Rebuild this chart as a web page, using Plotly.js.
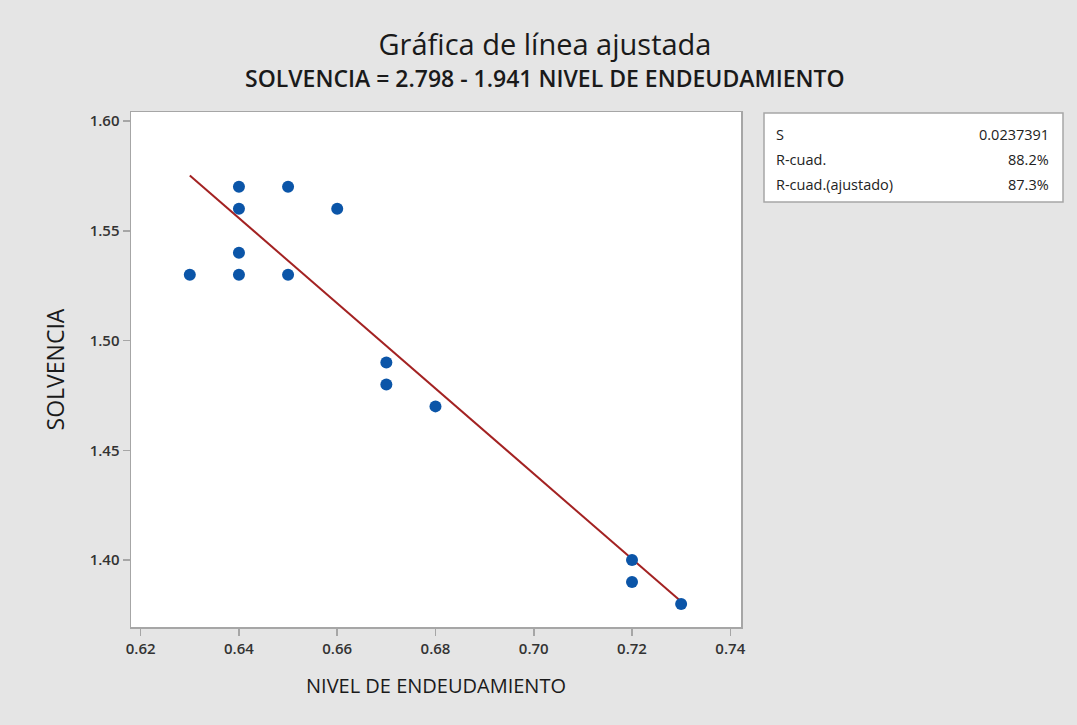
<!DOCTYPE html>
<html>
<head>
<meta charset="utf-8">
<script src="https://cdn.plot.ly/plotly-3.0.1.min.js"></script>
<style>html,body{margin:0;padding:0;background:#e5e5e5;}#chart{width:1077px;height:725px;}</style>
</head>
<body>
<div id="chart"></div>
<script>
// Data
const nivelEndeudamiento = [0.63, 0.64, 0.64, 0.64, 0.64, 0.65, 0.65, 0.66, 0.67, 0.67, 0.68, 0.72, 0.72, 0.73];
const solvencia          = [1.53, 1.57, 1.56, 1.54, 1.53, 1.57, 1.53, 1.56, 1.49, 1.48, 1.47, 1.40, 1.39, 1.38];
const intercepto = 2.798;
const pendiente = -1.941;
const statLabels = ["S", "R-cuad.", "R-cuad.(ajustado)"];
const statValues = ["0.0237391", "88.2%", "87.3%"];
const xTicks = [0.62, 0.64, 0.66, 0.68, 0.70, 0.72, 0.74];
const yTicks = [1.40, 1.45, 1.50, 1.55, 1.60];

const xMin = Math.min(...nivelEndeudamiento), xMax = Math.max(...nivelEndeudamiento);
const lineX = [xMin, xMax];
const lineY = lineX.map(x => intercepto + pendiente * x);

const fontMain = "Open Sans, Noto Sans, sans-serif";

const traces = [
  {x: lineX, y: lineY, mode: 'lines', type: 'scatter',
   line: {color: '#a32222', width: 2}, hoverinfo: 'skip', showlegend: false},
  {x: nivelEndeudamiento, y: solvencia, mode: 'markers', type: 'scatter',
   marker: {color: '#0b55a8', size: 12}, showlegend: false}
];

// Plot area in pixels: x 131..741, y 112..627
const L = 131, R = 741, T = 112, B = 627;
const W = 1077, H = 725;
const px = v => (v - L) / (R - L);
const py = v => (B - v) / (B - T);

const rowY = [134, 159, 184];
const annotations = [
  {text: 'SOLVENCIA = 2.798 - 1.941 NIVEL DE ENDEUDAMIENTO', xref: 'paper', yref: 'paper',
   x: px(545), y: py(78), xanchor: 'center', yanchor: 'middle', showarrow: false,
   font: {family: fontMain, size: 23, color: '#1a1a1a', weight: 600}}
];
statLabels.forEach((s, i) => {
  annotations.push({text: s, xref: 'paper', yref: 'paper', x: px(774), y: py(rowY[i]),
    xanchor: 'left', yanchor: 'middle', showarrow: false,
    font: {family: fontMain, size: 14.5, color: '#222'}});
  annotations.push({text: statValues[i], xref: 'paper', yref: 'paper', x: px(1051), y: py(rowY[i]),
    xanchor: 'right', yanchor: 'middle', showarrow: false,
    font: {family: fontMain, size: 14.5, color: '#222'}});
});

const layout = {
  width: W, height: H,
  paper_bgcolor: '#e5e5e5', plot_bgcolor: '#ffffff',
  margin: {l: L, r: W - R, t: T, b: H - B},
  title: {text: 'Gráfica de línea ajustada', x: 545 / W, xanchor: 'center', y: 1 - 45 / H, yanchor: 'middle',
          font: {family: fontMain, size: 29, color: '#1a1a1a'}},
  xaxis: {range: [0.61803, 0.74218], tickvals: xTicks, ticktext: xTicks.map(v => v.toFixed(2)),
          showgrid: false, zeroline: false, showline: true, mirror: true, linecolor: '#a6a6a6', linewidth: 1.5,
          ticks: 'outside', ticklen: 7, tickcolor: '#a6a6a6', tickwidth: 1.5,
          tickfont: {family: fontMain, size: 15, color: '#333', weight: 600},
          title: {text: 'NIVEL DE ENDEUDAMIENTO', standoff: 22, font: {family: fontMain, size: 20, color: '#1a1a1a'}}},
  yaxis: {range: [1.3695, 1.6041], tickvals: yTicks, ticktext: yTicks.map(v => v.toFixed(2)),
          showgrid: false, zeroline: false, showline: true, mirror: true, linecolor: '#a6a6a6', linewidth: 1.5,
          ticks: 'outside', ticklen: 7, tickcolor: '#a6a6a6', tickwidth: 1.5,
          tickfont: {family: fontMain, size: 15, color: '#333', weight: 600},
          title: {text: 'SOLVENCIA', standoff: 18, font: {family: fontMain, size: 23, color: '#1a1a1a'}}},
  shapes: [
    {type: 'rect', xref: 'paper', yref: 'paper', x0: px(764), x1: px(1063), y0: py(113), y1: py(202),
     fillcolor: '#ffffff', line: {color: '#a6a6a6', width: 1.5}, layer: 'below'}
  ],
  annotations: annotations
};

Plotly.newPlot('chart', traces, layout, {displayModeBar: false, staticPlot: true});
</script>
</body>
</html>
